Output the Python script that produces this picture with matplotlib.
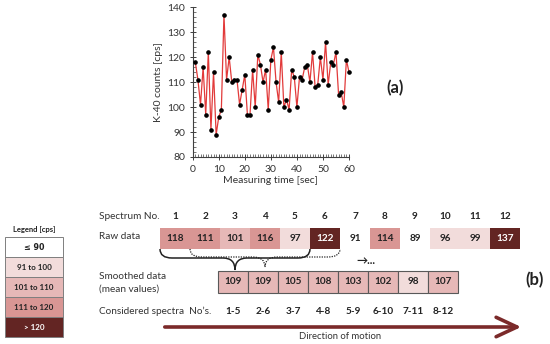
import numpy as np
import matplotlib
matplotlib.use("Agg")
import matplotlib.pyplot as plt
from matplotlib.patches import Rectangle, FancyArrowPatch, PathPatch
from matplotlib.path import Path
from matplotlib.ticker import MultipleLocator

plt.rcParams['font.family'] = ['Lato', 'DejaVu Sans']

# ---- data ----
seconds = list(range(1, 61))
counts = [118, 111, 101, 116, 97, 122, 91, 114, 89, 96, 99, 137,
          111, 120, 110, 111, 111, 101, 107, 113, 97, 97, 115, 100,
          121, 117, 110, 115, 99, 119, 124, 110, 102, 122, 100, 103,
          99, 115, 112, 100, 112, 111, 116, 117, 110, 122, 108, 109,
          120, 111, 126, 109, 118, 117, 122, 105, 106, 100, 119, 114]

spectrum_no = [str(i) for i in range(1, 13)]
raw_values = [118, 111, 101, 116, 97, 122, 91, 114, 89, 96, 99, 137]
raw_class = [3, 3, 2, 3, 1, 4, 0, 3, 0, 1, 1, 4]  # legend class as drawn
smooth_values = [109, 109, 105, 108, 103, 102, 98, 107]
smooth_class = [2, 2, 2, 2, 2, 2, 1, 2]
considered = ["1-5", "2-6", "3-7", "4-8", "5-9", "6-10", "7-11", "8-12"]

legend_labels = ["\u2264 90", "91 to 100", "101 to 110", "111 to 120", "> 120"]
legend_colors = ["white", "#f2dcdb", "#e6b8b7", "#d99694", "#632523"]
text_colors = ["#222222", "#222222", "#222222", "#222222", "white"]

W, H = 550, 344
fig = plt.figure(figsize=(5.5, 3.44), dpi=100)

# overlay axes in pixel coordinates for part (b)
ov = fig.add_axes([0, 0, 1, 1])
ov.set_xlim(0, W)
ov.set_ylim(H, 0)
ov.axis("off")

# ---- part (a): time series ----
ax = fig.add_axes([192.7 / W, 1 - 157 / H, 156.3 / W, (157 - 7.3) / H])
ax.plot(seconds, counts, color="#e23a3a", lw=0.9, marker="o", ms=2.3,
        mfc="black", mec="black", zorder=3, clip_on=False)
ax.set_xlim(0, 60)
ax.set_ylim(80, 140)
ax.xaxis.set_major_locator(MultipleLocator(10))
ax.xaxis.set_minor_locator(MultipleLocator(1))
ax.yaxis.set_major_locator(MultipleLocator(10))
ax.yaxis.set_minor_locator(MultipleLocator(2))
ax.spines["top"].set_visible(False)
ax.spines["right"].set_visible(False)
for s in ["left", "bottom"]:
    ax.spines[s].set_color("#404040")
    ax.spines[s].set_linewidth(0.8)
ax.tick_params(which="major", direction="inout", length=5, width=0.7,
               colors="#404040", labelsize=7.5, labelcolor="#333333", pad=3)
ax.tick_params(which="minor", direction="in", length=2.5, width=0.5, colors="#404040")
ax.set_xlabel("Measuring time [sec]", fontsize=7.5, color="#333333", labelpad=2)
ax.set_ylabel("K-40 counts [cps]", fontsize=7.5, color="#333333", labelpad=3)
ov.text(395, 88, "(a)", fontsize=12, fontweight="bold", ha="center", va="center", color="#222222")

# ---- part (b): table ----
col0, colw = 160, 30
raw_top, raw_h = 228, 21
sm_left, sm_top, sm_h = 218, 271, 22
lab_x = 99
fs = 7.2

ov.text(lab_x, 216.5, "Spectrum No.", fontsize=fs, va="center", color="#333333")
ov.text(lab_x, 236.5, "Raw data", fontsize=fs, va="center", color="#333333")
ov.text(lab_x, 276.5, "Smoothed data", fontsize=fs, va="center", color="#333333")
ov.text(lab_x, 289.5, "(mean values)", fontsize=fs, va="center", color="#333333")
ov.text(lab_x, 311.5, "Considered spectra  No\u2019s.", fontsize=fs, va="center", color="#333333")

for i, (no, val, cls) in enumerate(zip(spectrum_no, raw_values, raw_class)):
    cx = col0 + colw * i + colw / 2
    ov.text(cx, 216.5, no, fontsize=fs, fontweight="bold", ha="center", va="center", color="#222222")
    if cls > 0:
        ov.add_patch(Rectangle((col0 + colw * i, raw_top), colw, raw_h,
                               facecolor=legend_colors[cls], edgecolor="none"))
    ov.text(cx, raw_top + raw_h / 2, str(val), fontsize=fs, fontweight="bold",
            ha="center", va="center", color=text_colors[cls])

for k, (val, cls, lab) in enumerate(zip(smooth_values, smooth_class, considered)):
    x0 = sm_left + colw * k
    ov.add_patch(Rectangle((x0, sm_top), colw, sm_h, facecolor=legend_colors[cls],
                           edgecolor="#595959", lw=0.8))
    ov.text(x0 + colw / 2, sm_top + sm_h / 2, str(val), fontsize=fs, fontweight="bold",
            ha="center", va="center", color=text_colors[cls])
    ov.text(x0 + colw / 2, 311.5, lab, fontsize=fs, fontweight="bold",
            ha="center", va="center", color="#222222")


def brace(x0, x1, y0, yh, ytip, style, lw):
    xm = (x0 + x1) / 2
    r = 12
    verts = [(x0, y0), (x0, yh), (x0 + r, yh), (xm - r, yh), (xm, yh), (xm, ytip),
             (xm, yh), (xm + r, yh), (x1 - r, yh), (x1, yh), (x1, y0)]
    codes = [Path.MOVETO, Path.CURVE3, Path.CURVE3, Path.LINETO, Path.CURVE3, Path.CURVE3,
             Path.CURVE3, Path.CURVE3, Path.LINETO, Path.CURVE3, Path.CURVE3]
    ov.add_patch(PathPatch(Path(verts, codes), fill=False, edgecolor="#222222",
                           lw=lw, linestyle=style))


brace(col0 + colw, col0 + 6 * colw, 249, 257, 267, (0, (1, 1)), 0.9)
brace(col0, col0 + 5 * colw, 249, 258, 270, "-", 1.1)
ov.text(366, 260, "\u2192...", fontsize=8, fontweight="bold", ha="center", va="center", color="#222222")

# direction arrow
ov.add_patch(FancyArrowPatch((162, 327), (524, 327),
                             arrowstyle="->,head_length=0.75,head_width=0.35",
                             mutation_scale=20, color="#7b2a2a", lw=2.6))
ov.text(340, 336.5, "Direction of motion", fontsize=6.8, ha="center", va="center", color="#333333")
ov.text(535, 280, "(b)", fontsize=12, fontweight="bold", ha="center", va="center", color="#222222")

# ---- legend ----
ov.text(34, 229.5, "Legend [cps]", fontsize=5.5, fontweight="bold", ha="center", va="center", color="#222222")
leg_x, leg_w, leg_top, leg_h = 5, 58, 237, 20
for j, (lab, c) in enumerate(zip(legend_labels, legend_colors)):
    y0 = leg_top + leg_h * j
    ov.add_patch(Rectangle((leg_x, y0), leg_w, leg_h, facecolor=c,
                           edgecolor="#7f7f7f", lw=0.7))
    ov.text(leg_x + leg_w / 2, y0 + leg_h / 2, lab, fontsize=5.8, fontweight="bold",
            ha="center", va="center", color=text_colors[j],
            family=['DejaVu Sans'] if j == 0 else ['Lato', 'DejaVu Sans'])

fig.savefig("out.png", dpi=100)
